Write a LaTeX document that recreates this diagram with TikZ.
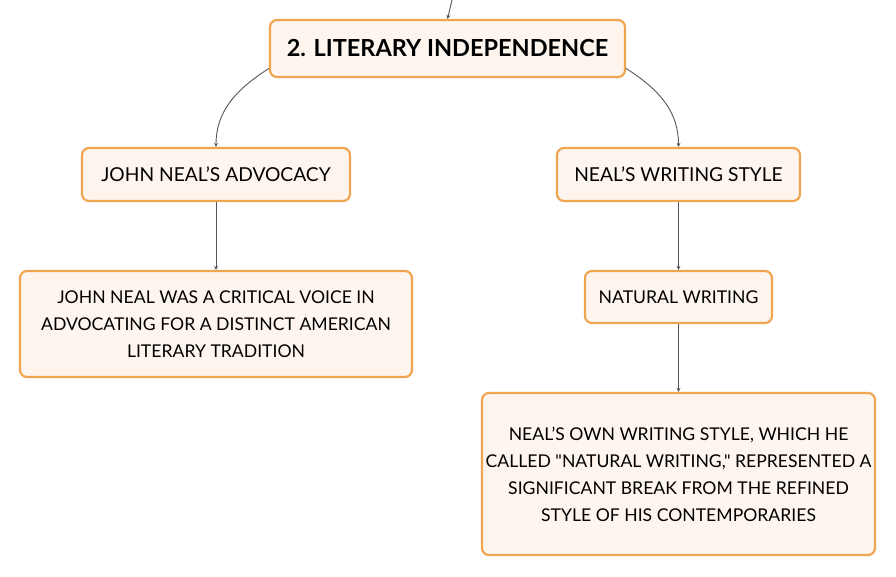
\documentclass[tikz,border=0pt]{standalone}
\usepackage{fontspec}
\setmainfont{Lato}[Ligatures=TeXOff]
\usetikzlibrary{arrows.meta}
\definecolor{boxedge}{HTML}{F0A550}
\definecolor{boxfill}{HTML}{FEF6EE}
\definecolor{linec}{HTML}{555555}
\tikzset{
  box/.style={draw=boxedge, line width=2.2pt, fill=boxfill, rounded corners=7pt, align=center, inner sep=0pt, font=\fontsize{17.6}{27}\selectfont},
  lbl/.style={box, font=\fontsize{19.2}{27}\selectfont},
  conn/.style={draw=linec, line width=0.9pt, -{Stealth[length=4pt,width=4pt]}}
}
\begin{document}
\begin{tikzpicture}[x=1pt,y=-1pt]
\useasboundingbox (0,0) rectangle (896,577);
\node[box, minimum width=355, minimum height=57, font=\fontsize{23.5}{26}\bfseries\selectfont] (t) at (447.5,48.5) {2. LITERARY INDEPENDENCE};
\node[lbl, minimum width=268, minimum height=53] (a) at (216,174.5) {JOHN NEAL’S ADVOCACY};
\node[box, minimum width=392, minimum height=106] (a1) at (216,324) {JOHN NEAL WAS A CRITICAL VOICE IN\\ADVOCATING FOR A DISTINCT AMERICAN\\LITERARY TRADITION};
\node[lbl, minimum width=243, minimum height=53] (b) at (678.5,174.5) {NEAL’S WRITING STYLE};
\node[box, minimum width=187, minimum height=52] (b1) at (678.5,297) {NATURAL WRITING};
\node[box, minimum width=393, minimum height=162] (b2) at (678.5,474) {NEAL’S OWN WRITING STYLE, WHICH HE\\CALLED "NATURAL WRITING," REPRESENTED A\\SIGNIFICANT BREAK FROM THE REFINED\\STYLE OF HIS CONTEMPORARIES};
\coordinate (top) at (452,0);
\draw[conn] (top) -- (t.north);
\draw[conn] ([yshift=-20pt]t.west) .. controls (235,90) and (216,112) .. (a.north);
\draw[conn] ([yshift=-20pt]t.east) .. controls (660,90) and (678.5,112) .. (b.north);
\draw[conn] (a) -- (a1);
\draw[conn] (b) -- (b1);
\draw[conn] (b1) -- (b2);
\end{tikzpicture}
\end{document}
